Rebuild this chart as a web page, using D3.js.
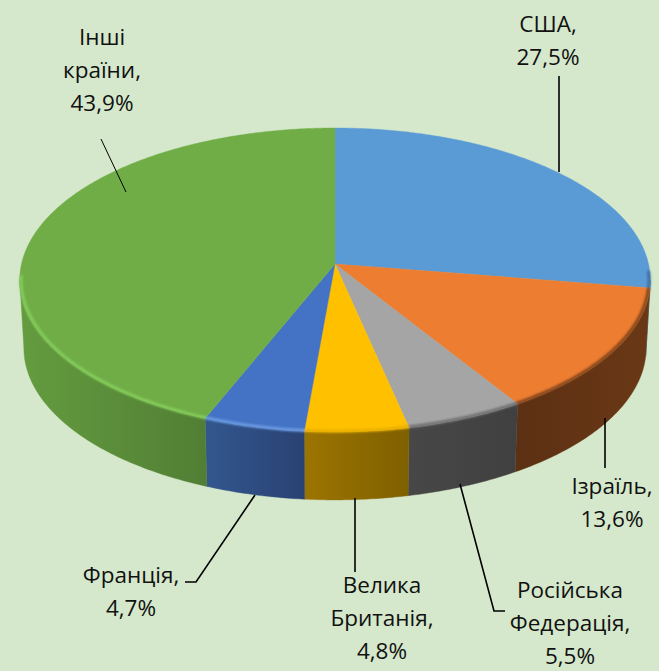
<!DOCTYPE html>
<html><head><meta charset="utf-8">
<script src="https://cdn.jsdelivr.net/npm/d3@7"></script>
<style>html,body{margin:0;padding:0;background:#D5E8CB}svg{display:block}
text{font-family:"Open Sans","Noto Sans",sans-serif;font-size:22.5px;fill:#111;text-anchor:middle}</style>
</head><body><svg id="c" width="659" height="671"></svg>
<script>
const categories = ["США","Ізраїль","Російська Федерація","Велика Британія","Франція","Інші країни"];
const shares = [27.5,13.6,5.5,4.8,4.7,43.9];
const valueLabels = ["27,5%","13,6%","5,5%","4,8%","4,7%","43,9%"];
const labelLines = [["США,"],["Ізраїль,"],["Російська","Федерація,"],["Велика","Британія,"],["Франція,"],["Інші","країни,"]];
const topColors = ["#5B9BD5","#ED7D31","#A5A5A5","#FFC000","#4472C4","#70AD47"];
const sideFrom = ["#2E5A85","#5C3013","#474747","#9C7400","#32578F","#649C3F"];
const sideTo   = ["#2E5A85","#6A3816","#404040","#7F6000","#2A4272","#517E34"];
const bevel    = ["#3F6E9C","#7D431C","#6E6E6E","#E8AE00","#6C9BE3","#85CE5B"];
const labelAnchors = [[548,24],[612,486],[570,590],[382,585],[131,575],[102,37]];
const lineGap = 33;
const leaders = [
 [[559,76],[559,172]],
 [[605,418],[605,468]],
 [[460,484],[494,611],[505,611]],
 [[355,498],[355,572]],
 [[255,495],[196,582],[185,582]],
 [[101,139],[126,192]]
];
const svg = d3.select("#c");
const W=659,H=671;
svg.append("rect").attr("width",W).attr("height",H).attr("fill","#D5E8CB");
const defs = svg.append("defs");
defs.append("filter").attr("id","blur").attr("filterUnits","userSpaceOnUse").attr("x",0).attr("y",0).attr("width",W).attr("height",H)
  .append("feGaussianBlur").attr("stdDeviation",1);

const arcs = d3.pie().sort(null).value(d=>d)(shares);
const cx=335, cy=264, B=313.5, A=150.3, k=0.105, depth=68, bottomScale=0.987;
const sx=d3.scaleLinear().domain([-1,1]).range([cx-B,cx+B]);
const sy=d3.scaleLinear().domain([-1,1]).range([cy+A,cy-A]);
function proj(theta,r=1){
  const x=r*Math.sin(theta), z=r*Math.cos(theta), f=1/(1+k*z);
  return [sx(x*f), sy(z*f)];
}
function bottom(theta){
  const p=proj(theta);
  return [cx+(p[0]-cx)*bottomScale, p[1]+depth];
}
const line=d3.line();
const range=(a,b)=>{const n=Math.max(2,Math.ceil((b-a)/0.01));return d3.range(n+1).map(i=>a+(b-a)*i/n);};
const RIGHT=Math.acos(-k), LEFT=2*Math.PI-Math.acos(-k);

const sideG=svg.append("g");
arcs.forEach((d,i)=>{
  const a=Math.max(d.startAngle,RIGHT), b=Math.min(d.endAngle,LEFT);
  if(b<=a) return;
  const ang=range(a,b);
  const pts=ang.map(t=>proj(t)).concat(ang.slice().reverse().map(bottom));
  const xs=pts.map(p=>p[0]);
  const id="side"+i;
  const g=defs.append("linearGradient").attr("id",id).attr("gradientUnits","userSpaceOnUse")
    .attr("x1",d3.min(xs)).attr("x2",d3.max(xs)).attr("y1",0).attr("y2",0);
  g.append("stop").attr("offset",0).attr("stop-color",sideFrom[i]);
  g.append("stop").attr("offset",1).attr("stop-color",sideTo[i]);
  sideG.append("path").attr("d",line(pts)+"Z").attr("fill",`url(#${id})`).attr("stroke",`url(#${id})`).attr("stroke-width",.4);
});
const topG=svg.append("g");
arcs.forEach((d,i)=>{
  const pts=[proj(0,0)].concat(range(d.startAngle,d.endAngle).map(t=>proj(t)));
  topG.append("path").attr("d",line(pts)+"Z").attr("fill",topColors[i]).attr("stroke",topColors[i]).attr("stroke-width",.4);
});
const bevelG=svg.append("g").attr("filter","url(#blur)");
arcs.forEach((d,i)=>{
  const a=Math.max(d.startAngle,RIGHT-0.06), b=Math.min(d.endAngle,LEFT+0.03);
  if(b<=a) return;
  bevelG.append("path").attr("d",line(range(a,b).map(t=>proj(t,0.996))))
    .attr("fill","none").attr("stroke",bevel[i]).attr("stroke-width",3);
});
const leadG=svg.append("g");
leaders.forEach((l,i)=>{
  leadG.append("path").attr("d",line(l)).attr("fill","none").attr("stroke","#000")
    .attr("stroke-width",i===5?1:1.6);
});
const labG=svg.append("g");
categories.forEach((c,i)=>{
  const lines=labelLines[i].concat([valueLabels[i]]);
  lines.forEach((t,j)=>{
    labG.append("text").attr("x",labelAnchors[i][0]).attr("y",labelAnchors[i][1]+j*lineGap)
      .attr("dy","0.35em").text(t);
  });
});
</script></body></html>
